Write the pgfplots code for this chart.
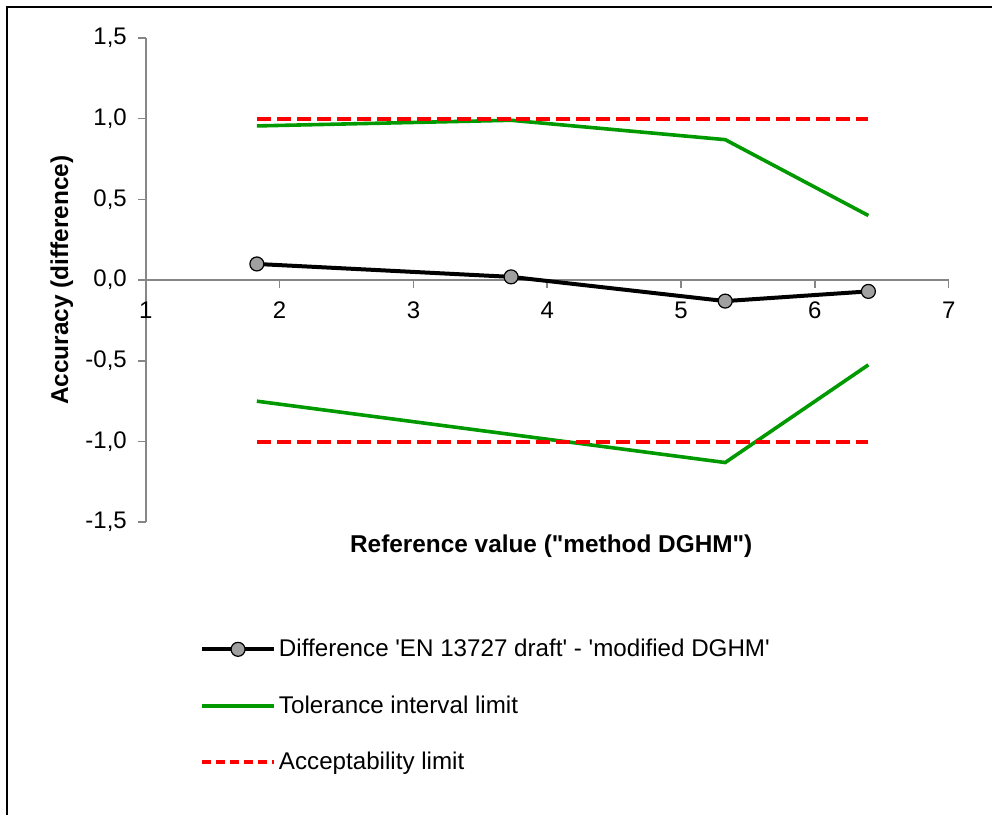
\documentclass[border=0pt]{standalone}
\usepackage{fontspec}
\setmainfont{Liberation Sans}[Ligatures=TeXOff]
\usepackage{pgfplots}
\pgfplotsset{compat=1.18}
\definecolor{axgray}{RGB}{134,134,134}
\definecolor{tgreen}{RGB}{0,153,0}
\definecolor{mgray}{RGB}{160,160,160}
\begin{document}
\begin{tikzpicture}
\begin{axis}[
  at={(0,0)}, anchor=south west,
  width=402pt, height=242.5pt, scale only axis,
  xmin=1, xmax=7, ymin=-1.5, ymax=1.5,
  axis x line*=middle, axis y line*=left,
  axis line style={axgray, line width=0.8pt},
  xtick={1,2,3,4,5,6,7}, ytick={-1.5,-1,-0.5,0,0.5,1,1.5},
  tick style={axgray, line width=0.8pt},
  tick align=outside, major tick length=4pt,
  hide obscured x ticks=false, hide obscured y ticks=false,
  /pgf/number format/assume math mode=true,
  ticklabel style={font=\fontsize{12}{14}\selectfont},
  xticklabel style={yshift=-3.5pt},
  yticklabel style={xshift=-2pt, /pgf/number format/.cd, fixed, fixed zerofill, precision=1, use comma},
  xlabel={Reference value ("method DGHM")},
  ylabel={Accuracy (difference)},
  xlabel style={at={(axis description cs:0.505,-0.012)}, anchor=north, font=\fontsize{12.2}{14}\selectfont\bfseries},
  ylabel style={at={(axis description cs:-0.1045,0.5)}, anchor=center, rotate=0, font=\fontsize{12.2}{14}\selectfont\bfseries},
  legend style={draw=none, fill=none, at={(axis description cs:0.0597,-0.228)}, anchor=north west,
    font=\fontsize{12.1}{14}\selectfont, row sep=16pt,
    nodes={inner xsep=1.5pt, inner ysep=1pt}},
  legend cell align=left,
  legend image code/.code={\draw[mark repeat=2,mark phase=2] plot coordinates {(0pt,0pt) (18pt,0pt) (36pt,0pt)};},
]
\addlegendimage{black, line width=2pt, mark=*, mark size=3.5pt, mark options={fill=mgray, draw=black, line width=0.6pt}}
\addlegendentry{Difference 'EN 13727 draft' - 'modified DGHM'}
\addlegendimage{tgreen, line width=1.8pt}
\addlegendentry{Tolerance interval limit}
\addlegendimage{red, line width=2pt, dash pattern=on 4.5pt off 2.5pt}
\addlegendentry{Acceptability limit}

\addplot[forget plot, tgreen, line width=1.8pt] coordinates {(1.83,0.955) (3.73,0.99) (5.33,0.87) (6.40,0.40)};
\addplot[forget plot, tgreen, line width=1.8pt] coordinates {(1.83,-0.75) (5.33,-1.13) (6.40,-0.525)};
\addplot[forget plot, red, line width=2pt, dash pattern=on 7pt off 3pt] coordinates {(1.83,1) (6.40,1)};
\addplot[forget plot, red, line width=2pt, dash pattern=on 7pt off 3pt] coordinates {(1.83,-1) (6.40,-1)};
\addplot[forget plot, black, line width=2pt, mark=*, mark size=3.5pt, mark options={fill=mgray, draw=black, line width=0.6pt}]
  coordinates {(1.83,0.10) (3.73,0.02) (5.33,-0.13) (6.40,-0.07)};
\end{axis}
\draw[black, line width=1.4pt] (-69.5pt,-146.5pt) -- (-69.5pt,258pt) -- (423.5pt,258pt);
\path (-73pt,261.5pt) rectangle (423.5pt,-146.5pt);
\end{tikzpicture}
\end{document}
